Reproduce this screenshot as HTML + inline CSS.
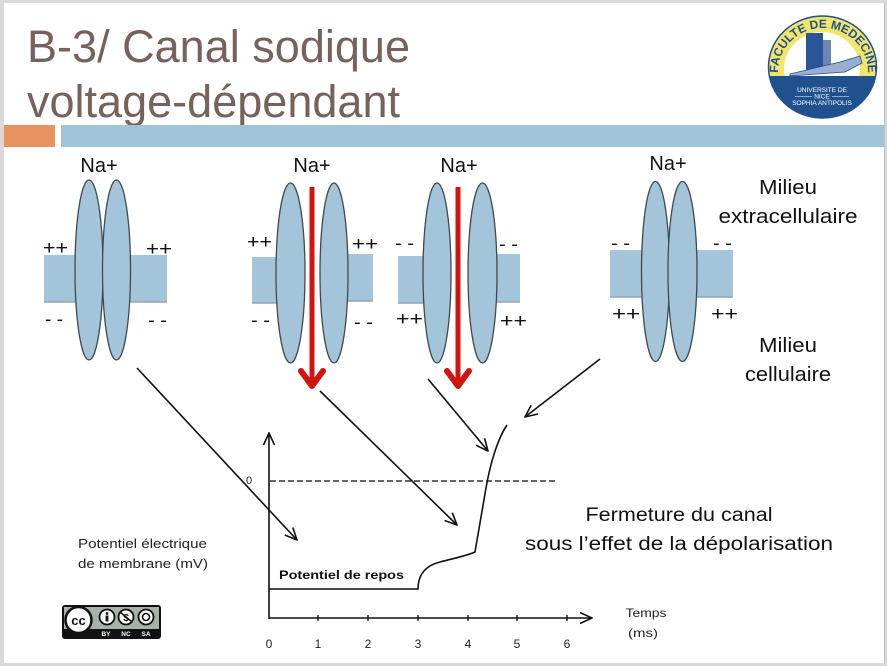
<!DOCTYPE html>
<html><head><meta charset="utf-8">
<style>
html,body{margin:0;padding:0;background:#d9d9d9;}
svg{display:block;}
text{font-family:"Liberation Sans","DejaVu Sans",sans-serif;}
</style></head>
<body>
<svg width="887" height="666" viewBox="0 0 887 666" xmlns="http://www.w3.org/2000/svg">
<defs>
<marker id="ah" viewBox="0 0 14 14" refX="13" refY="7" markerWidth="14" markerHeight="14" markerUnits="userSpaceOnUse" orient="auto">
<path d="M1,1.5 L13,7 L1,12.5" fill="none" stroke="#111" stroke-width="1.6"/>
</marker>
<clipPath id="lc"><ellipse cx="822.5" cy="67" rx="54" ry="51"/></clipPath>
<path id="arc" d="M778,72 A45,44 0 0 1 868,72"/>
</defs>
<rect x="0" y="0" width="887" height="666" fill="#d9d9d9"/>
<rect x="4" y="3" width="880" height="660" fill="#ffffff"/>
<line x1="884.5" y1="3" x2="884.5" y2="663" stroke="#bdbdbd" stroke-width="1"/>

<!-- Title -->
<text x="27" y="62" font-size="45" fill="#76625a" textLength="383" lengthAdjust="spacingAndGlyphs">B-3/ Canal sodique</text>
<text x="27" y="117" font-size="45" fill="#76625a" textLength="373" lengthAdjust="spacingAndGlyphs">voltage-dépendant</text>

<!-- Bars -->
<rect x="4" y="125" width="51" height="22" fill="#e8935f"/>
<rect x="61" y="125" width="823" height="22" fill="#a0c3d8"/>

<!-- Logo -->
<g clip-path="url(#lc)">
<ellipse cx="822.5" cy="67" rx="54" ry="51" fill="#f1e66a"/>
<ellipse cx="822" cy="69" rx="38" ry="37" fill="#ffffff"/>
<rect x="760" y="76" width="130" height="50" fill="#21508f"/>
</g>
<ellipse cx="822.5" cy="67" rx="54" ry="51" fill="none" stroke="#21508f" stroke-width="1.5"/>
<text font-size="12" font-family="Liberation Serif,serif" fill="#21508f" font-weight="bold"><textPath href="#arc" startOffset="50%" text-anchor="middle">FACULTE DE MEDECINE</textPath></text>
<rect x="806" y="33" width="17" height="37" fill="#2a5597"/>
<rect x="823" y="40" width="8" height="30" fill="#6b86b5"/>
<path d="M790,74 L840,62 L860,56 L862,63 L845,72 L790,76 Z" fill="#9aaed0" stroke="#21508f" stroke-width="0.8"/>
<text x="822" y="92" font-size="6.5" font-family="Liberation Serif,serif" fill="#fff" text-anchor="middle">UNIVERSITE DE</text>
<text x="822" y="98.5" font-size="6.5" font-family="Liberation Serif,serif" fill="#fff" text-anchor="middle">NICE</text>
<line x1="795" y1="96.5" x2="812" y2="96.5" stroke="#fff" stroke-width="0.6"/>
<line x1="832" y1="96.5" x2="849" y2="96.5" stroke="#fff" stroke-width="0.6"/>
<text x="822" y="105" font-size="6.5" font-family="Liberation Serif,serif" fill="#fff" text-anchor="middle">SOPHIA ANTIPOLIS</text>

<!-- Channel 1 -->
<text x="99" y="172" font-size="20" fill="#111" text-anchor="middle">Na+</text>
<rect x="44" y="255" width="123" height="47" fill="#a3c4d9"/>
<line x1="44" y1="302" x2="167" y2="302" stroke="#8ea7b6" stroke-width="1.5"/>
<ellipse cx="89" cy="270" rx="14" ry="90" fill="#a3c4d9" stroke="#3e4a52" stroke-width="1.3"/>
<ellipse cx="116.5" cy="270" rx="14" ry="90" fill="#a3c4d9" stroke="#3e4a52" stroke-width="1.3"/>
<text x="43" y="254" font-size="19" fill="#111" textLength="25" lengthAdjust="spacingAndGlyphs">++</text>
<text x="146" y="255" font-size="19" fill="#111" textLength="26" lengthAdjust="spacingAndGlyphs">++</text>
<text x="45" y="325" font-size="18" fill="#111" textLength="18" lengthAdjust="spacingAndGlyphs">- -</text>
<text x="148" y="326" font-size="18" fill="#111" textLength="19" lengthAdjust="spacingAndGlyphs">- -</text>

<!-- Channel 2 -->
<text x="312" y="172" font-size="20" fill="#111" text-anchor="middle">Na+</text>
<rect x="252" y="257" width="40" height="46" fill="#a3c4d9"/>
<line x1="252" y1="303" x2="292" y2="303" stroke="#8ea7b6" stroke-width="1.5"/>
<rect x="332" y="254" width="41" height="47" fill="#a3c4d9"/>
<line x1="332" y1="301" x2="373" y2="301" stroke="#8ea7b6" stroke-width="1.5"/>
<ellipse cx="290.5" cy="273" rx="14.5" ry="90" fill="#a3c4d9" stroke="#3e4a52" stroke-width="1.3"/>
<ellipse cx="334" cy="273" rx="14" ry="90" fill="#a3c4d9" stroke="#3e4a52" stroke-width="1.3"/>
<rect x="309.5" y="187" width="5" height="196" fill="#d0140f"/>
<polyline points="301,371 312,386 323,371" fill="none" stroke="#d0140f" stroke-width="6" stroke-linecap="round" stroke-linejoin="round"/>
<text x="247" y="248" font-size="19" fill="#111" textLength="25" lengthAdjust="spacingAndGlyphs">++</text>
<text x="352" y="250" font-size="19" fill="#111" textLength="26" lengthAdjust="spacingAndGlyphs">++</text>
<text x="251" y="326" font-size="18" fill="#111" textLength="19" lengthAdjust="spacingAndGlyphs">- -</text>
<text x="354" y="328" font-size="18" fill="#111" textLength="19" lengthAdjust="spacingAndGlyphs">- -</text>

<!-- Channel 3 -->
<text x="459" y="172" font-size="20" fill="#111" text-anchor="middle">Na+</text>
<rect x="398" y="256" width="41" height="47" fill="#a3c4d9"/>
<line x1="398" y1="303" x2="439" y2="303" stroke="#8ea7b6" stroke-width="1.5"/>
<rect x="480" y="254" width="40" height="48" fill="#a3c4d9"/>
<line x1="480" y1="302" x2="520" y2="302" stroke="#8ea7b6" stroke-width="1.5"/>
<ellipse cx="437" cy="273" rx="14" ry="90" fill="#a3c4d9" stroke="#3e4a52" stroke-width="1.3"/>
<ellipse cx="482.5" cy="273" rx="14.5" ry="90" fill="#a3c4d9" stroke="#3e4a52" stroke-width="1.3"/>
<rect x="455.5" y="187" width="5" height="196" fill="#d0140f"/>
<polyline points="447,371 458,386 469,371" fill="none" stroke="#d0140f" stroke-width="6" stroke-linecap="round" stroke-linejoin="round"/>
<text x="395" y="249" font-size="18" fill="#111" textLength="19" lengthAdjust="spacingAndGlyphs">- -</text>
<text x="499" y="250" font-size="18" fill="#111" textLength="19" lengthAdjust="spacingAndGlyphs">- -</text>
<text x="396" y="325" font-size="19" fill="#111" textLength="27" lengthAdjust="spacingAndGlyphs">++</text>
<text x="500" y="327" font-size="19" fill="#111" textLength="27" lengthAdjust="spacingAndGlyphs">++</text>

<!-- Channel 4 -->
<text x="668" y="170" font-size="20" fill="#111" text-anchor="middle">Na+</text>
<rect x="610" y="250" width="123" height="47" fill="#a3c4d9"/>
<line x1="610" y1="297" x2="733" y2="297" stroke="#8ea7b6" stroke-width="1.5"/>
<ellipse cx="655.5" cy="271.5" rx="14" ry="90" fill="#a3c4d9" stroke="#3e4a52" stroke-width="1.3"/>
<ellipse cx="682.5" cy="271.5" rx="14.5" ry="90" fill="#a3c4d9" stroke="#3e4a52" stroke-width="1.3"/>
<text x="611" y="249" font-size="18" fill="#111" textLength="19" lengthAdjust="spacingAndGlyphs">- -</text>
<text x="713" y="249" font-size="18" fill="#111" textLength="19" lengthAdjust="spacingAndGlyphs">- -</text>
<text x="612" y="320" font-size="19" fill="#111" textLength="28" lengthAdjust="spacingAndGlyphs">++</text>
<text x="711" y="320" font-size="19" fill="#111" textLength="27" lengthAdjust="spacingAndGlyphs">++</text>

<!-- Milieu labels -->
<text x="788" y="194" font-size="20" fill="#111" text-anchor="middle" textLength="58" lengthAdjust="spacingAndGlyphs">Milieu</text>
<text x="788" y="223" font-size="20" fill="#111" text-anchor="middle" textLength="139" lengthAdjust="spacingAndGlyphs">extracellulaire</text>
<text x="788" y="352" font-size="20" fill="#111" text-anchor="middle" textLength="58" lengthAdjust="spacingAndGlyphs">Milieu</text>
<text x="788" y="381" font-size="20" fill="#111" text-anchor="middle" textLength="86" lengthAdjust="spacingAndGlyphs">cellulaire</text>

<!-- Connector arrows -->
<line x1="137" y1="368" x2="297" y2="540" stroke="#111" stroke-width="1.6" marker-end="url(#ah)"/>
<line x1="320" y1="391" x2="457" y2="525" stroke="#111" stroke-width="1.6" marker-end="url(#ah)"/>
<line x1="428" y1="379" x2="488" y2="451" stroke="#111" stroke-width="1.6" marker-end="url(#ah)"/>
<line x1="600" y1="359" x2="525" y2="417" stroke="#111" stroke-width="1.6" marker-end="url(#ah)"/>

<!-- Graph -->
<line x1="269" y1="619" x2="269" y2="433" stroke="#111" stroke-width="1.6" marker-end="url(#ah)"/>
<line x1="269" y1="618" x2="592" y2="618" stroke="#111" stroke-width="1.6" marker-end="url(#ah)"/>
<g stroke="#111" stroke-width="1.4">
<line x1="318" y1="615" x2="318" y2="621"/>
<line x1="368" y1="615" x2="368" y2="621"/>
<line x1="418" y1="615" x2="418" y2="621"/>
<line x1="468" y1="615" x2="468" y2="621"/>
<line x1="517" y1="615" x2="517" y2="621"/>
<line x1="567" y1="615" x2="567" y2="621"/>
</g>
<line x1="270" y1="481" x2="555" y2="481" stroke="#333" stroke-width="1.4" stroke-dasharray="6,3"/>
<text x="249" y="484" font-size="11" fill="#222" text-anchor="middle">0</text>
<path d="M269,589 L418,589 C418,576 424,566 440,562 C455,558 466,556 475,552 L486,488 C490,465 497,440 507,425" fill="none" stroke="#111" stroke-width="1.6"/>
<text x="279" y="579" font-size="12" font-weight="bold" fill="#111" textLength="125" lengthAdjust="spacingAndGlyphs">Potentiel de repos</text>
<g font-size="12" fill="#222" text-anchor="middle">
<text x="269" y="648">0</text>
<text x="318" y="648">1</text>
<text x="368" y="648">2</text>
<text x="418" y="648">3</text>
<text x="468" y="648">4</text>
<text x="517" y="648">5</text>
<text x="567" y="648">6</text>
</g>
<text x="646" y="617" font-size="12" fill="#222" text-anchor="middle" textLength="41" lengthAdjust="spacingAndGlyphs">Temps</text>
<text x="643" y="637" font-size="12" fill="#222" text-anchor="middle" textLength="30" lengthAdjust="spacingAndGlyphs">(ms)</text>

<text x="78" y="548" font-size="12.5" fill="#222" textLength="129" lengthAdjust="spacingAndGlyphs">Potentiel électrique</text>
<text x="78" y="568" font-size="12.5" fill="#222" textLength="130" lengthAdjust="spacingAndGlyphs">de membrane (mV)</text>

<text x="679" y="521" font-size="19" fill="#111" text-anchor="middle" textLength="187" lengthAdjust="spacingAndGlyphs">Fermeture du canal</text>
<text x="679" y="550" font-size="19" fill="#111" text-anchor="middle" textLength="308" lengthAdjust="spacingAndGlyphs">sous l’effet de la dépolarisation</text>

<!-- CC badge -->
<rect x="62" y="605" width="99" height="34" rx="3" fill="#111"/>
<rect x="64" y="607" width="95" height="22" fill="#a9b1aa"/>
<circle cx="78.5" cy="620" r="13" fill="#fff" stroke="#111" stroke-width="2.5"/>
<text x="78.5" y="625" font-size="13" font-weight="bold" fill="#111" text-anchor="middle">cc</text>
<circle cx="107" cy="617" r="7.5" fill="#fff" stroke="#111" stroke-width="1.8"/>
<circle cx="107" cy="613.5" r="1.4" fill="#111"/>
<rect x="105.6" y="615.5" width="2.8" height="6" fill="#111"/>
<circle cx="126" cy="617" r="7.5" fill="#fff" stroke="#111" stroke-width="1.8"/>
<text x="126" y="621" font-size="10" font-weight="bold" fill="#111" text-anchor="middle">$</text>
<line x1="120" y1="612" x2="132" y2="622" stroke="#111" stroke-width="1.5"/>
<circle cx="146" cy="617" r="7.5" fill="#fff" stroke="#111" stroke-width="1.8"/>
<circle cx="146" cy="617" r="3.5" fill="none" stroke="#111" stroke-width="1.6"/>
<g font-size="6.5" font-weight="bold" fill="#fff" text-anchor="middle">
<text x="106" y="636">BY</text>
<text x="126" y="636">NC</text>
<text x="146" y="636">SA</text>
</g>
</svg>
</body></html>
